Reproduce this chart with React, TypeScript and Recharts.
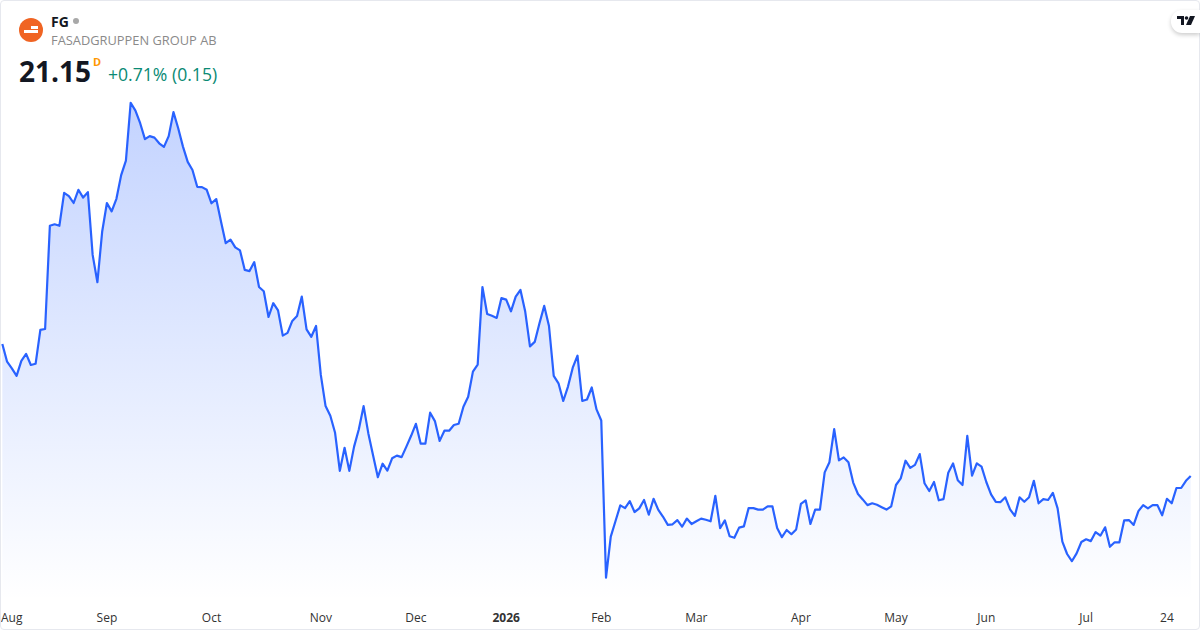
import { Area, AreaChart, XAxis, YAxis } from "recharts";

const prices = [
  25.55, 24.96, 24.74, 24.49, 24.99, 25.22, 24.85, 24.89, 26.02, 26.05, 29.49, 29.54, 29.49, 30.59, 30.48, 30.25,
  30.69, 30.43, 30.61, 28.52, 27.61, 29.29, 30.25, 29.97, 30.39, 31.18, 31.66, 33.59, 33.33, 32.91, 32.38, 32.48,
  32.43, 32.24, 32.12, 32.48, 33.28, 32.74, 32.13, 31.62, 31.35, 30.79, 30.78, 30.69, 30.24, 30.38, 29.63, 28.91,
  29.03, 28.77, 28.67, 28.02, 27.98, 28.28, 27.45, 27.31, 26.45, 26.91, 26.67, 25.83, 25.92, 26.32, 26.48,
  27.13, 26.04, 25.79, 26.15, 24.52, 23.48, 23.16, 22.59, 21.32, 22.09, 21.32, 22.13, 22.71, 23.48, 22.57, 21.83,
  21.11, 21.56, 21.33, 21.74, 21.83, 21.78, 22.13, 22.49, 22.89, 22.23, 22.23, 23.26, 22.98, 22.32, 22.66, 22.66,
  22.85, 22.89, 23.46, 23.79, 24.63, 24.86, 27.45, 26.55, 26.49, 26.42, 27.08, 27.03, 26.64, 27.13, 27.35, 26.63,
  25.47, 25.62, 26.24, 26.82, 26.15, 24.49, 24.24, 23.65, 24.13, 24.76, 25.16, 23.65, 23.7, 24.1, 23.37, 23.0,
  17.76, 19.13, 19.65, 20.17, 20.08, 20.31, 19.95, 20.07, 20.35, 19.86, 20.39, 20.02, 19.79, 19.52, 19.54, 19.68,
  19.46, 19.73, 19.55, 19.64, 19.73, 19.69, 19.64, 20.49, 19.41, 19.67, 19.14, 19.09, 19.43, 19.47, 20.08, 20.08,
  20.03, 20.03, 20.14, 20.14, 19.42, 19.11, 19.35, 19.21, 19.37, 20.22, 20.34, 19.55, 20.03, 20.03, 21.27, 21.61,
  22.71, 21.67, 21.77, 21.61, 20.93, 20.55, 20.37, 20.18, 20.24, 20.19, 20.11, 20.03, 20.14, 20.85, 21.07,
  21.66, 21.42, 21.52, 21.88, 20.91, 20.65, 20.95, 20.34, 20.38, 21.26, 21.57, 21.01, 20.85, 22.49, 21.16, 21.57,
  21.46, 20.95, 20.54, 20.29, 20.28, 20.44, 20.04, 19.82, 20.44, 20.29, 20.44, 20.99, 20.24, 20.38, 20.35, 20.59,
  20.07, 18.96, 18.55, 18.31, 18.57, 18.95, 19.04, 18.98, 19.28, 19.16, 19.44, 18.79, 18.94, 18.94, 19.67, 19.68,
  19.52, 19.98, 20.18, 20.07, 20.18, 20.18, 19.84, 20.39, 20.24, 20.75, 20.75, 20.99, 21.15,
];
const tickIndexes = [0, 22, 44, 67, 87, 106, 126, 146, 168, 188, 207, 228, 245];
const tickLabels = ["Aug", "Sep", "Oct", "Nov", "Dec", "2026", "Feb", "Mar", "Apr", "May", "Jun", "Jul", "24"];

const chartData = prices.map((price, session) => ({ price, session }));
const font = "'Open Sans', sans-serif";

function MonthTick({ x, payload }: any) {
  const pos = tickIndexes.indexOf(payload.value);
  const label = tickLabels[pos];
  return (
    <text
      x={pos === 0 ? 1 : x}
      y={622}
      fill="#333333"
      fontFamily={font}
      fontSize={12}
      fontWeight={label === "2026" ? 700 : 400}
      textAnchor={pos === 0 ? "start" : "middle"}
    >
      {label}
    </text>
  );
}

export default function App() {
  return (
    <div style={{ position: "fixed", left: 0, top: 0, width: 1200, height: 630, background: "#fff", fontFamily: font }}>
      <AreaChart
        data={chartData}
        height={630}
        margin={{ bottom: 0, left: 2.33, right: 9.3, top: 60.5 }}
        width={1200}
      >
        <defs>
          <linearGradient id="priceFill" x1="0" x2="0" y1="0" y2="1">
            <stop offset="0%" stopColor="#2962ff" stopOpacity={0.28} />
            <stop offset="100%" stopColor="#2962ff" stopOpacity={0} />
          </linearGradient>
        </defs>
        <XAxis
          axisLine={false}
          dataKey="session"
          domain={[0, 250]}
          height={29.5}
          interval={0}
          tick={MonthTick}
          tickLine={false}
          ticks={tickIndexes}
          type="number"
        />
        <YAxis domain={[17, 35]} hide />
        <Area
          baseValue={17}
          dataKey="price"
          fill="url(#priceFill)"
          fillOpacity={1}
          isAnimationActive={false}
          stroke="#2962ff"
          strokeLinejoin="round"
          strokeWidth={2.2}
          type="linear"
        />
      </AreaChart>

      <div style={{ position: "absolute", inset: 0, boxSizing: "border-box", border: "1px solid #e6e8ee", borderRadius: 4, pointerEvents: "none" }} />

      <svg height={24} style={{ position: "absolute", left: 19, top: 18 }} viewBox="0 0 24 24" width={24}>
        <circle cx={12} cy={12} fill="#f06423" r={12} />
        <rect fill="#fff" height={3} width={7} x={5} y={12} />
        <rect fill="#fff" height={3} width={7} x={12} y={12} />
        <rect fill="#fff" height={3} width={7} x={12} y={8} />
      </svg>
      <div style={{ position: "absolute", left: 51, top: 12, fontSize: 14, fontWeight: 700, color: "#131722", lineHeight: "19px" }}>FG</div>
      <div style={{ position: "absolute", left: 73, top: 18, width: 6, height: 6, borderRadius: 3, background: "#a8a8a8" }} />
      <div style={{ position: "absolute", left: 51, top: 32, fontSize: 12.85, color: "#8a8a8a", lineHeight: "17px", whiteSpace: "nowrap" }}>FASADGRUPPEN GROUP AB</div>
      <div style={{ position: "absolute", left: 19, top: 52, fontSize: 28, fontWeight: 700, color: "#131722", lineHeight: "38px" }}>21.15</div>
      <div style={{ position: "absolute", left: 93, top: 54, fontSize: 11, fontWeight: 700, color: "#ff9800", lineHeight: "15px" }}>D</div>
      <div style={{ position: "absolute", left: 108, top: 62, fontSize: 17.6, color: "#0a8a74", lineHeight: "24px", whiteSpace: "nowrap" }}>+0.71% (0.15)</div>

      <div style={{ position: "absolute", right: 0, top: 10, width: 29, height: 23, background: "#fff", borderRadius: "11px 0 0 11px", boxShadow: "0 2px 4px rgba(0,0,0,0.2)" }}>
        <svg height={10} style={{ position: "absolute", left: 6, top: 6 }} viewBox="0 0 18 10" width={18}>
          <path d="M0 0h7v9H4V3H0z" fill="#131722" />
          <circle cx={9.5} cy={2} fill="#131722" r={1.8} />
          <path d="M13 0h5l-4 9H9z" fill="#131722" />
        </svg>
      </div>
    </div>
  );
}
